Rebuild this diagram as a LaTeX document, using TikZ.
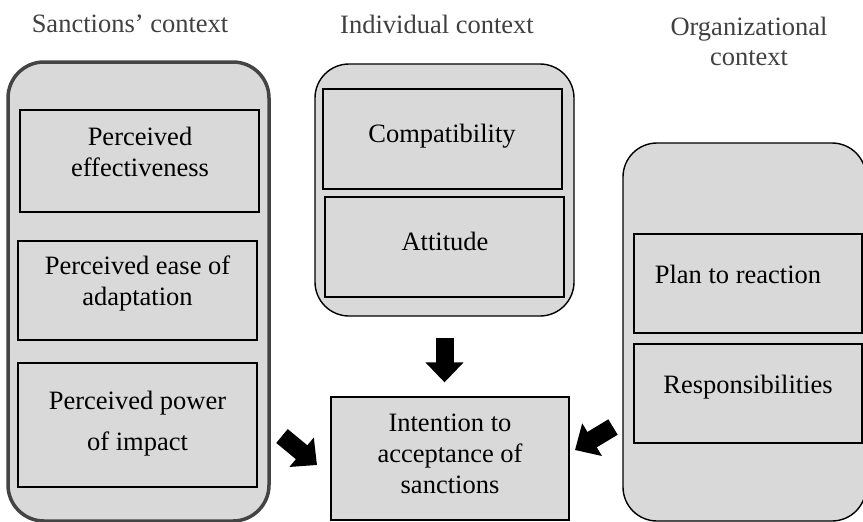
\documentclass[tikz,border=0pt]{standalone}
\usepackage{fontspec}
\setmainfont{Liberation Serif}
\usetikzlibrary{arrows.meta}
\definecolor{boxgray}{RGB}{217,217,217}
\definecolor{titlegray}{RGB}{64,64,64}
\definecolor{rimgray}{RGB}{68,68,68}

\begin{document}
\begin{tikzpicture}[x=1pt, y=-1pt,
  ctx/.style={draw, fill=boxgray, line width=1.4pt, rounded corners=34pt, inner sep=0pt},
  factor/.style={draw, fill=boxgray, line width=1.3pt, inner sep=0pt},
  lbl/.style={font=\fontsize{26.5}{31}\selectfont, align=center, inner sep=0pt, anchor=base},
  title/.style={font=\fontsize{26.5}{30}\selectfont, text=titlegray, align=center, inner sep=0pt, anchor=base},
  fat/.style={line width=18pt, -{Triangle[length=20pt, width=37pt]}}
]
\useasboundingbox (0,0) rectangle (863,522);
\clip (0,0) rectangle (863,522);

% context titles
\node[title] (tsanc) at (130,32) {Sanctions' context};
\node[title] (tindiv) at (437,33) {Individual context};
\node[title] (torg) at (749,65) {Organizational\\context};

% the three context containers
\node[ctx, draw=rimgray, line width=3.5pt, rounded corners=36pt, minimum width=261pt, minimum height=459pt] (sanc) at (138.5,291.5) {};
\node[ctx, minimum width=259pt, minimum height=252pt] (indiv) at (444.5,190) {};
\node[ctx, minimum width=243pt, minimum height=378pt] (org) at (744.5,332) {};

% sanctions' context
\node[factor, minimum width=239pt, minimum height=102pt] (eff) at (139.5,161) {};
\node[factor, minimum width=239pt, minimum height=99pt] (ease) at (137.5,290.5) {};
\node[factor, minimum width=239pt, minimum height=124pt] (power) at (137.5,425) {};
\node[lbl] (teff) at (140,176) {Perceived\\effectiveness};
\node[lbl] (tease) at (137.5,305) {Perceived ease of\\adaptation};
\node[lbl] (tpower) at (137.5,450) {Perceived power\\[10pt]of impact};

% individual context
\node[factor, minimum width=239pt, minimum height=100pt] (compat) at (442.5,139) {};
\node[factor, minimum width=239pt, minimum height=100pt] (att) at (444.5,247) {};
\node[lbl] (tcompat) at (442,142) {Compatibility};
\node[lbl] (tatt) at (445,250) {Attitude};

% organizational context
\node[factor, minimum width=228pt, minimum height=99pt] (plan) at (748,283.5) {};
\node[factor, minimum width=228pt, minimum height=99pt] (resp) at (748,393.5) {};
\node[lbl] (tplan) at (738,283) {Plan to reaction};
\node[lbl] (tresp) at (748,393) {Responsibilities};

% outcome
\node[factor, minimum width=238pt, minimum height=123pt] (intent) at (450,458.5) {};
\node[lbl] (tintent) at (450,493) {Intention to\\acceptance of\\sanctions};

% block arrows
\coordinate (sanctail) at (282,436);
\coordinate (sanctip) at (317,465);
\coordinate (orgtail) at (613,427);
\coordinate (orgtip) at (575,450);
\draw[fat] ([yshift=-21pt]indiv.south) -- ([yshift=14pt]indiv.south |- intent.north);
\draw[fat] (sanctail) -- (sanctip);
\draw[fat] (orgtail) -- (orgtip);
\end{tikzpicture}
\end{document}
